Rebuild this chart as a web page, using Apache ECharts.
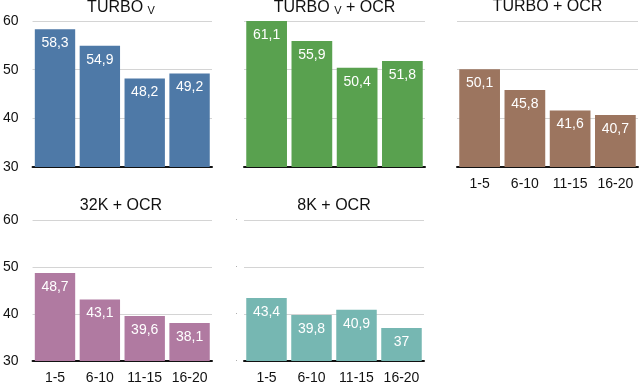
<!DOCTYPE html>
<html>
<head>
<meta charset="utf-8">
<script src="https://cdn.jsdelivr.net/npm/echarts@6/dist/echarts.min.js"></script>
<style>
  html, body { margin: 0; padding: 0; background: #fff; }
  #chart { width: 640px; height: 385px; }
</style>
</head>
<body>
<div id="chart"></div>
<script>
  const categories = ["1-5", "6-10", "11-15", "16-20"];
  const turboV = [58.3, 54.9, 48.2, 49.2];
  const turboVOcr = [61.1, 55.9, 50.4, 51.8];
  const turboOcr = [50.1, 45.8, 41.6, 40.7];
  const k32Ocr = [48.7, 43.1, 39.6, 38.1];
  const k8Ocr = [43.4, 39.8, 40.9, 37];
  const yTicks = [30, 40, 50, 60];

  const font = "Liberation Sans, Helvetica, Arial, sans-serif";

  // one entry per small chart
  const panels = [
    { title: "{a|TURBO }{b|V}", data: turboV, color: "#4e79a7", left: 30, top: 21, width: 182, yLabels: true, xLabels: false },
    { title: "{a|TURBO }{b|V}{a| + OCR}", data: turboVOcr, color: "#59a14f", left: 244, top: 21, width: 181, yLabels: false, xLabels: false },
    { title: "{a|TURBO + OCR}", data: turboOcr, color: "#9c755f", left: 457, top: 21, width: 181, yLabels: false, xLabels: true },
    { title: "{a|32K + OCR}", data: k32Ocr, color: "#b07aa1", left: 30, top: 220, width: 182, yLabels: true, xLabels: true },
    { title: "{a|8K + OCR}", data: k8Ocr, color: "#76b7b2", left: 244, top: 220, width: 180, yLabels: "dots", xLabels: true },
  ];

  const myChart = echarts.init(document.getElementById("chart"));

  let option = {
    animation: false,
    textStyle: { fontFamily: font },
    title: [],
    grid: [],
    xAxis: [],
    yAxis: [],
    series: [],
  };

  panels.forEach((p, i) => {
    option.title.push({
      text: p.title,
      left: p.left + p.width / 2,
      top: p.top - 22,
      padding: 0,
      textAlign: "center",
      textStyle: {
        fontWeight: "normal",
        rich: {
          a: { fontSize: 16, color: "#111", fontFamily: font, fontWeight: "normal" },
          b: { fontSize: 11, color: "#111", fontFamily: font, fontWeight: "normal", padding: [6, 0, 0, 0] },
        },
      },
    });
    option.grid.push({ left: p.left, top: p.top, width: p.width, height: 146 });
    option.xAxis.push({
      type: "category",
      gridIndex: i,
      data: categories,
      axisLine: { lineStyle: { color: "#111", width: 2 } },
      axisTick: { show: false },
      axisLabel: { show: p.xLabels, interval: 0, color: "#111", fontSize: 14, margin: 10 },
    });
    option.yAxis.push({
      type: "value",
      gridIndex: i,
      min: yTicks[0],
      max: yTicks[yTicks.length - 1],
      interval: 10,
      axisLine: { show: false },
      axisTick: { show: false },
      splitLine: { lineStyle: { color: "#d4d4d4", width: 1 } },
      axisLabel: {
        show: !!p.yLabels,
        color: p.yLabels === "dots" ? "#999" : "#111",
        fontSize: p.yLabels === "dots" ? 8 : 14,
        margin: p.yLabels === "dots" ? 6 : 14,
        formatter: p.yLabels === "dots" ? () => "·" : "{value}",
      },
    });
    option.series.push({
      type: "bar",
      xAxisIndex: i,
      yAxisIndex: i,
      data: p.data,
      barCategoryGap: "10%",
      itemStyle: { color: p.color },
      label: {
        show: true,
        position: "insideTop",
        distance: 7,
        color: "#fff",
        fontSize: 14,
        formatter: (d) => String(d.value).replace(".", ","),
      },
    });
  });

  myChart.setOption(option);
</script>
</body>
</html>
